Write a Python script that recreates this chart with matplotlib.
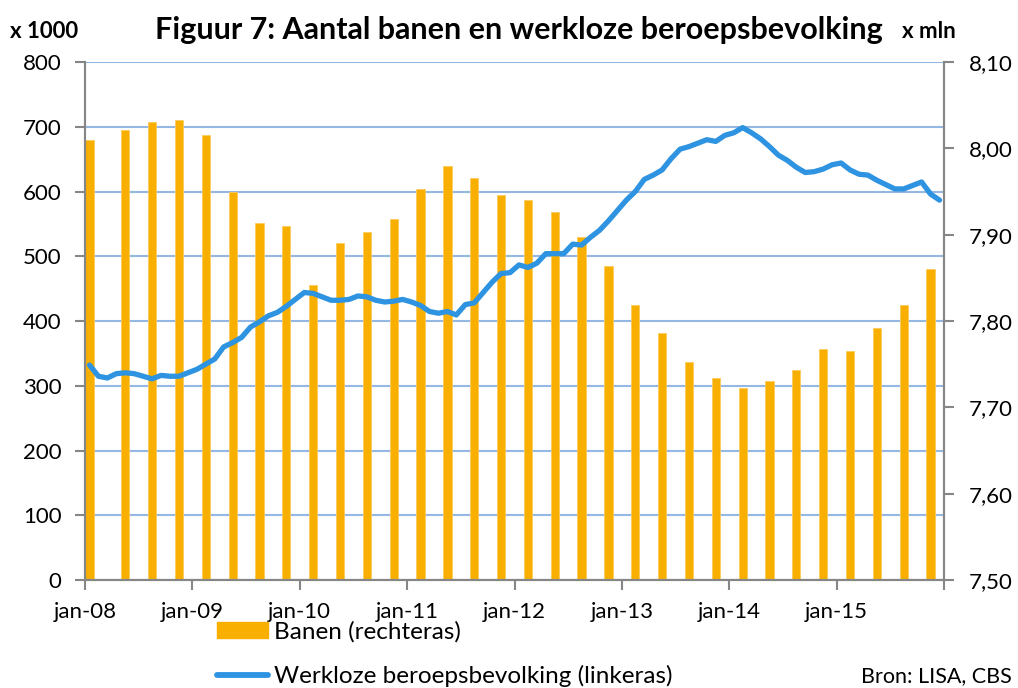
#!/usr/bin/env python
# Figuur 7: banen (staven, kwartaal) en werkloze beroepsbevolking (lijn, maand)

import numpy as np
import matplotlib
matplotlib.use('Agg')
import matplotlib.pyplot as plt
from matplotlib.patches import Patch
from matplotlib.lines import Line2D

BAR_COLOR  = '#F8AF00'
LINE_COLOR = '#2E93E0'
GRID_COLOR = '#95B7E3'
AXIS_COLOR = '#868686'

# banen x 1000, per kwartaal
bar_months = ['2008-01', '2008-05', '2008-08', '2008-11',
              '2009-02', '2009-05', '2009-08', '2009-11',
              '2010-02', '2010-05', '2010-08', '2010-11',
              '2011-02', '2011-05', '2011-08', '2011-11',
              '2012-02', '2012-05', '2012-08', '2012-11',
              '2013-02', '2013-05', '2013-08', '2013-11',
              '2014-02', '2014-05', '2014-08', '2014-11',
              '2015-02', '2015-05', '2015-08', '2015-11']
banen = [680, 695, 708, 711,
         688, 600, 552, 546,
         456, 521, 538, 557,
         604, 639, 621, 594,
         587, 569, 529, 485,
         425, 381, 336, 312,
         296, 307, 324, 357,
         354, 389, 424, 481]

# werkloze beroepsbevolking x mln, per maand vanaf jan-08
line_start = '2008-01'
werkloos = [7.749, 7.736, 7.734, 7.739, 7.740, 7.739, 7.736, 7.733, 7.737, 7.736, 7.736, 7.740,
            7.744, 7.750, 7.756, 7.770, 7.775, 7.781, 7.793, 7.799, 7.806, 7.810, 7.817, 7.825,
            7.833, 7.832, 7.828, 7.824, 7.824, 7.825, 7.829, 7.828, 7.824, 7.822, 7.823, 7.825,
            7.822, 7.818, 7.811, 7.809, 7.811, 7.807, 7.819, 7.821, 7.833, 7.845, 7.855, 7.856,
            7.865, 7.862, 7.867, 7.878, 7.878, 7.878, 7.889, 7.888, 7.897, 7.905, 7.916, 7.928,
            7.940, 7.950, 7.964, 7.969, 7.975, 7.988, 7.999, 8.002, 8.006, 8.010, 8.008, 8.015,
            8.018, 8.024, 8.018, 8.011, 8.002, 7.992, 7.986, 7.978, 7.972, 7.973, 7.976, 7.981,
            7.983, 7.975, 7.970, 7.969, 7.963, 7.958, 7.953, 7.953, 7.957, 7.961, 7.947, 7.940]

tick_labels = ['jan-08', 'jan-09', 'jan-10', 'jan-11', 'jan-12', 'jan-13', 'jan-14', 'jan-15', '']
left_ticks  = [0, 100, 200, 300, 400, 500, 600, 700, 800]
right_ticks = [7.50, 7.60, 7.70, 7.80, 7.90, 8.00, 8.10]


def month_index(s):
    y, m = s.split('-')
    return (int(y) - 2008) * 12 + int(m) - 1


def main():
    plt.rcParams['font.family'] = ['Lato', 'DejaVu Sans']
    fig = plt.figure(figsize=(10.18, 6.88), dpi=100)
    ax = fig.add_axes([85/1018, 1 - 580/688, (944 - 85)/1018, (580 - 62)/688])
    ax2 = ax.twinx()

    xb = np.array([month_index(s) for s in bar_months]) + 0.5
    xl = month_index(line_start) + np.arange(len(werkloos)) + 0.5

    ax.set_axisbelow(True)
    ax.grid(axis='y', color=GRID_COLOR, lw=1.5)
    ax.bar(xb, banen, width=0.92, color=BAR_COLOR, edgecolor='#FBCB5A', lw=0.6, zorder=2)
    ax2.plot(xl, werkloos, color=LINE_COLOR, lw=3.8, solid_capstyle='round', zorder=3)

    ax.set_xlim(0, 96)
    ax.set_ylim(0, 800)
    ax2.set_ylim(7.5, 8.1)
    ax.set_xticks(range(0, 97, 12))
    ax.set_xticklabels(tick_labels)
    ax.set_yticks(left_ticks)
    ax2.set_yticks(right_ticks)
    ax2.set_yticklabels([('%.2f' % v).replace('.', ',') for v in right_ticks])

    for a in (ax, ax2):
        a.spines['top'].set_visible(False)
        for s in ('left', 'right', 'bottom'):
            a.spines[s].set_color(AXIS_COLOR)
            a.spines[s].set_linewidth(1.5)
        a.tick_params(colors=AXIS_COLOR, labelcolor='black', labelsize=16,
                      length=7, width=1.5, direction='out')
    ax.tick_params(axis='y', pad=10)
    ax2.tick_params(axis='y', pad=11)
    ax.tick_params(axis='x', pad=9)

    fig.text(0.51, 1 - 30/688, 'Figuur 7: Aantal banen en werkloze beroepsbevolking',
             ha='center', va='center', fontsize=22, fontweight='bold')
    fig.text(10/1018, 1 - 31/688, 'x 1000', ha='left', va='center', fontsize=16, fontweight='bold')
    fig.text(902/1018, 1 - 31/688, 'x mln', ha='left', va='center', fontsize=16, fontweight='bold')
    fig.text(1012/1018, 1 - 676/688, 'Bron: LISA, CBS', ha='right', va='center', fontsize=15.5)

    handles = [Patch(facecolor=BAR_COLOR, edgecolor=BAR_COLOR),
               Line2D([0], [0], color=LINE_COLOR, lw=4.2, solid_capstyle='round')]
    labels = ['Banen (rechteras)', 'Werkloze beroepsbevolking (linkeras)']
    fig.legend(handles, labels, loc='upper left', bbox_to_anchor=(217/1018, 1 - 621/688),
               frameon=False, fontsize=17.5, handlelength=2.1, handleheight=0.65,
               handletextpad=0.25, labelspacing=0.92, borderpad=0, borderaxespad=0)

    fig.savefig('out.png', dpi=100)
    return 0


if __name__ == '__main__':
    main()
